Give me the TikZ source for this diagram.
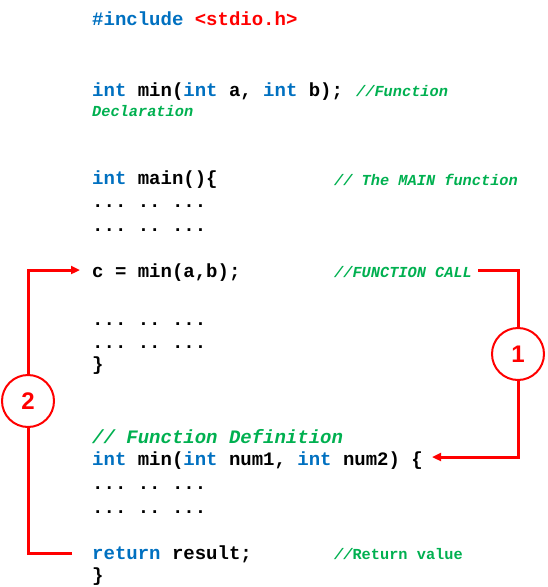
\documentclass[tikz,border=0pt]{standalone}
\usepackage{fontspec}
\setmonofont{Liberation Mono}
\setsansfont{Liberation Sans}
\usetikzlibrary{arrows.meta}
\definecolor{kw}{HTML}{0070C0}
\definecolor{cm}{HTML}{00B050}
\definecolor{rd}{HTML}{FF0000}
\newcommand{\kwd}[1]{\textcolor{kw}{#1}}
\tikzset{
  code/.style={anchor=base west,inner sep=0pt,font=\ttfamily\bfseries\fontsize{19}{19}\selectfont},
  cmt/.style={anchor=base west,inner sep=0pt,text=cm,font=\ttfamily\bfseries\itshape\fontsize{15.3}{15.3}\selectfont},
  num/.style={circle,draw=rd,line width=2pt,minimum size=52pt,inner sep=0pt,text=rd,font=\sffamily\bfseries\fontsize{24}{24}\selectfont},
  link/.style={draw=rd,line width=3pt},
  arr/.style={link,-{Triangle[length=9pt,width=8pt]}}
}
\begin{document}
\begin{tikzpicture}[x=1pt,y=-1pt]
\useasboundingbox (0,0) rectangle (548,587);
\node[code] (inc) at (92,25) {\kwd{\#include} \textcolor{rd}{<stdio.h>}};
\node[code] (decl) at (92,96) {\kwd{int} min(\kwd{int} a, \kwd{int} b);};
\node[cmt] (declc) at (356,96) {//Function};
\node[cmt] (declc2) at (92,116) {Declaration};
\node[code] (main) at (92,184) {\kwd{int} main()\{};
\node[cmt] (mainc) at (334,185) {// The MAIN function};
\node[code] (d1) at (92,207) {... .. ...};
\node[code] (d2) at (92,231) {... .. ...};
\node[code] (call) at (92,277) {c = min(a,b);};
\node[cmt] (callc) at (334,277) {//FUNCTION CALL};
\node[code] (d3) at (92,325) {... .. ...};
\node[code] (d4) at (92,348) {... .. ...};
\node[code] (cl1) at (92,370) {\}};
\node[code,text=cm,font=\ttfamily\bfseries\itshape\fontsize{19}{19}\selectfont] (defc) at (92,443) {// Function Definition};
\node[code] (def) at (92,465) {\kwd{int} min(\kwd{int} num1, \kwd{int} num2) \{};
\node[code] (d5) at (92,489) {... .. ...};
\node[code] (d6) at (92,513) {... .. ...};
\node[code] (ret) at (92,559) {\kwd{return} result;};
\node[cmt] (retc) at (334,559) {//\upshape Return value};
\node[code] (cl2) at (92,581) {\}};
\node[num] (n1) at (518,354) {1};
\node[num] (n2) at (28,401) {2};
\coordinate (c1a) at (478,270);
\coordinate (c1b) at (518,270);
\coordinate (c1c) at (518,457);
\coordinate (c1d) at (432,457);
\coordinate (c2a) at (72,553);
\coordinate (c2b) at (28,553);
\coordinate (c2c) at (28,270);
\coordinate (c2d) at (80,270);
\draw[link] (c1a) -- (c1b) -- (n1.north);
\draw[arr] (n1.south) -- (c1c) -- (c1d);
\draw[link] (c2a) -- (c2b) -- (n2.south);
\draw[arr] (n2.north) -- (c2c) -- (c2d);
\end{tikzpicture}
\end{document}
